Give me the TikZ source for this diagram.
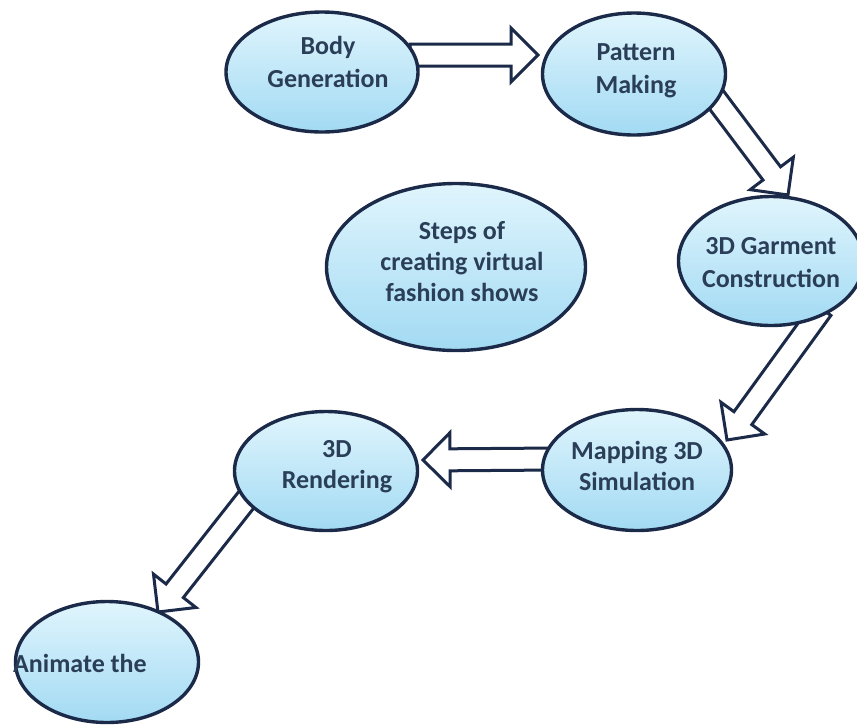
\documentclass[tikz,border=0pt]{standalone}
\usepackage{fontspec}
\setmainfont{Carlito}
\usetikzlibrary{shapes.geometric,calc,backgrounds}
\definecolor{edgecol}{HTML}{1B2A48}
\definecolor{txtcol}{HTML}{2A3E58}
\definecolor{filltop}{HTML}{E0F5FD}
\definecolor{fillbot}{HTML}{A2DAF3}
\tikzset{
  bubble/.style={ellipse, draw=edgecol, line width=3.4pt, top color=filltop, bottom color=fillbot, inner sep=0pt},
  lbl/.style={font=\fontsize{26}{33}\selectfont\bfseries, text=txtcol, align=center, inner sep=0pt},
  lbltight/.style={lbl, font=\fontsize{26}{31}\selectfont\bfseries},
  hollow/.style={draw=edgecol, line width=3pt, fill=white, line join=miter},
}
\newcommand{\hollowarrow}[3]{%
  \coordinate (#3b) at ($(#2)!27pt!(#1)$);
  \draw[hollow] ($(#1)!11pt!90:(#2)$) -- ($(#3b)!11pt!90:(#2)$) -- ($(#3b)!27pt!90:(#2)$) -- (#2)
    -- ($(#3b)!27pt!-90:(#2)$) -- ($(#3b)!11pt!-90:(#2)$) -- ($(#1)!11pt!-90:(#2)$) -- cycle;
}
\begin{document}
\begin{tikzpicture}[x=1pt,y=-1pt]
\useasboundingbox (0,0) rectangle (857,724);

% ellipses
\node[bubble, minimum width=192pt, minimum height=120pt] (body) at (322,72) {};
\node[bubble, minimum width=183pt, minimum height=122pt] (pattern) at (634,74) {};
\node[bubble, minimum width=259pt, minimum height=167pt] (steps) at (456,267) {};
\node[bubble, minimum width=185pt, minimum height=129pt] (garment) at (771,261) {};
\node[bubble, minimum width=189pt, minimum height=121pt] (mapping) at (637,470) {};
\node[bubble, minimum width=183pt, minimum height=119pt] (rendering) at (326,471) {};
\node[bubble, minimum width=183pt, minimum height=121pt] (animate) at (107,662) {};

% labels
\node[lbl] (bodyT) at (328,62) {Body\\Generation};
\node[lbl] (patternT) at (636,71) {Pattern\\Making};
\node[lbltight] (stepsT) at (462,262) {Steps of\\creating virtual\\fashion shows};
\node[lbl] (garmentT) at (771,263) {3D Garment\\Construction};
\node[lbltight] (mappingT) at (637,466) {Mapping 3D\\Simulation};
\node[lbltight] (renderingT) at (337,467) {3D\\Rendering};
\node[lbl, anchor=west] (animateT) at (13,663) {Animate the};

% arrow end points
\coordinate (a1s) at (410,55);   \coordinate (a1t) at (538,55);
\coordinate (a2s) at (712,94);   \coordinate (a2t) at (788,195);
\coordinate (a3s) at (822,309);  \coordinate (a3t) at (727,440);
\coordinate (a4s) at (556,459);  \coordinate (a4t) at (423,460);
\coordinate (a5s) at (254,490);  \coordinate (a5t) at (158,612);

\begin{scope}[on background layer]
\fill[white] (0,0) rectangle (857,724);
\hollowarrow{a1s}{a1t}{ar1}
\hollowarrow{a2s}{a2t}{ar2}
\hollowarrow{a3s}{a3t}{ar3}
\hollowarrow{a4s}{a4t}{ar4}
\hollowarrow{a5s}{a5t}{ar5}
\end{scope}
\end{tikzpicture}
\end{document}
